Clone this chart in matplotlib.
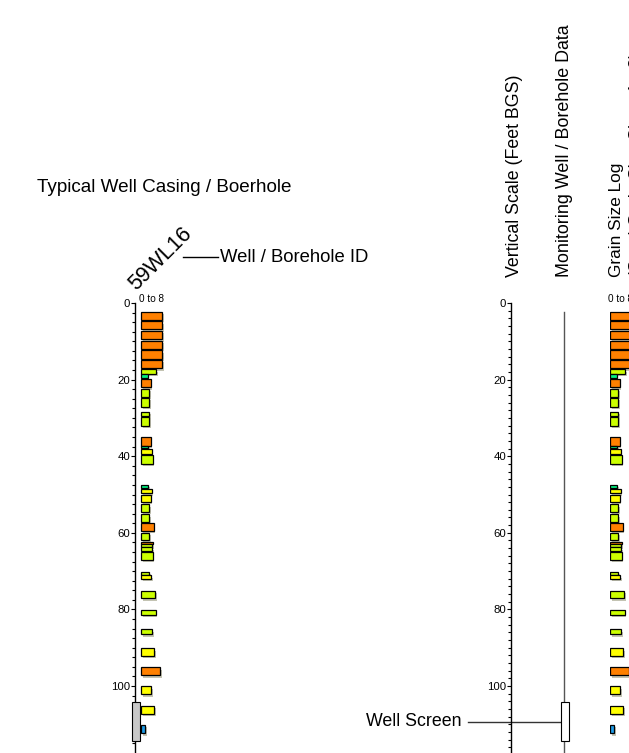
import matplotlib.pyplot as plt
from matplotlib.lines import Line2D
from matplotlib.patches import Rectangle
from matplotlib.ticker import MultipleLocator

plt.rcParams['font.family'] = ['Liberation Sans', 'DejaVu Sans']

W, H = 629, 753          # canvas size in pixels
PX_FT = 3.83             # vertical pixels per foot of depth
PX_UNIT = 2.7            # horizontal pixels per grain size unit

# borehole 59WL16 grain size log (feet below ground surface)
tops = [2.4, 4.8, 7.3, 9.8, 12.4, 14.9, 17.3, 18.5, 19.8, 22.5, 24.8, 28.5, 29.8,
        35.0, 37.3, 38.0, 39.8, 47.5, 48.6, 50.0, 52.6, 55.2, 57.5, 60.1, 62.3,
        62.9, 63.8, 65.1, 70.2, 71.1, 75.1, 80.2, 85.2, 90.2, 95.1, 100.1, 105.2, 110.2]
bottoms = [4.4, 6.9, 9.5, 12.0, 14.5, 17.1, 18.5, 19.6, 22.0, 24.5, 27.1, 29.6, 32.1,
           37.3, 37.8, 39.5, 42.0, 48.4, 49.7, 52.0, 54.6, 57.1, 59.5, 61.9, 62.9,
           63.6, 64.7, 67.1, 71.1, 72.1, 77.1, 81.5, 86.5, 92.2, 97.2, 102.2, 107.2, 112.4]
grain = [7.9, 7.9, 7.9, 7.9, 7.9, 7.9, 5.6, 2.5, 3.6, 3.0, 3.0, 3.0, 3.0,
         3.6, 2.6, 4.0, 4.3, 2.6, 4.0, 3.7, 3.0, 3.0, 4.8, 3.0, 4.3,
         4.1, 4.1, 4.3, 3.0, 3.8, 5.3, 5.4, 4.2, 4.9, 7.1, 3.8, 4.9, 1.5]
classes = ['G', 'G', 'G', 'G', 'G', 'G', 'C', 'F', 'G', 'C', 'C', 'C', 'C',
           'G', 'F', 'M', 'C', 'F', 'M', 'M', 'C', 'C', 'G', 'C', 'G',
           'C', 'C', 'C', 'C', 'M', 'C', 'C', 'C', 'M', 'G', 'M', 'M', 'S']
class_colors = {'G': '#ff8000', 'C': '#ccff00', 'M': '#ffff00', 'F': '#00f080', 'S': '#1e9be6'}

screen_top, screen_bottom = 104.3, 114.3
well_top = 2.3
depth_ticks = [0, 20, 40, 60, 80, 100]
max_depth = (H - 303) / PX_FT


def frame(x0, y0, x1, y1):
    return [x0 / W, 1 - y1 / H, (x1 - x0) / W, (y1 - y0) / H]


def draw_log(ax):
    heights = [b - t for t, b in zip(tops, bottoms)]
    colors = [class_colors[c] for c in classes]
    # soft drop shadow under each interval
    ax.barh([t + 0.6 for t in tops], grain, height=heights, left=1.5 / PX_UNIT,
            align='edge', color='#3a3a00', alpha=0.3, lw=0, zorder=1)
    ax.barh(tops, grain, height=heights, left=0, align='edge', color=colors,
            edgecolor='black', lw=0.9, zorder=2)
    ax.text(-2 / PX_UNIT, -1.0, '0 to 8', fontsize=7.2, va='center', ha='left', clip_on=False)


def depth_axis(ax, spine_x, minor):
    for s in ['top', 'right', 'bottom']:
        ax.spines[s].set_visible(False)
    ax.spines['left'].set_position(('data', spine_x))
    ax.spines['left'].set_linewidth(1.0)
    ax.set_yticks(depth_ticks)
    ax.yaxis.set_minor_locator(MultipleLocator(minor))
    ax.tick_params(axis='y', which='major', length=3, width=0.8, labelsize=8.2, pad=0.5)
    ax.tick_params(axis='y', which='minor', length=2, width=0.8)
    ax.set_xticks([])
    ax.set_ylim(max_depth, 0)
    ax.patch.set_alpha(0)


fig = plt.figure(figsize=(W / 100, H / 100), dpi=100)

# typical borehole panel
ax1 = fig.add_axes(frame(125, 303, 175, H))
ax1.set_xlim((125 - 141) / PX_UNIT, (175 - 141) / PX_UNIT)
depth_axis(ax1, (135 - 141) / PX_UNIT, 2.5)
draw_log(ax1)
ax1.add_patch(Rectangle(((132.3 - 141) / PX_UNIT, screen_top), 7.7 / PX_UNIT,
                        screen_bottom - screen_top, facecolor='#c8c8c8',
                        edgecolor='black', lw=0.8, zorder=3, clip_on=False))

# vertical scale with monitoring well
ax2 = fig.add_axes(frame(511, 303, 600, H))
ax2.set_xlim(0, 89)
depth_axis(ax2, 0, 2)
ax2.plot([53, 53], [well_top, max_depth], color='#555555', lw=1.0, zorder=1)
ax2.add_patch(Rectangle((49.8, screen_top), 7.7, screen_bottom - screen_top,
                        facecolor='white', edgecolor='black', lw=0.8, zorder=3))
mid_screen = (screen_top + screen_bottom) / 2
ax2.plot([-43, 49.8], [mid_screen, mid_screen], color='#333333', lw=1.0, clip_on=False)
ax2.text(-49.5, mid_screen, 'Well Screen', fontsize=12.8, ha='right', va='center')

# grain size log column
ax3 = fig.add_axes(frame(610, 303, 700, H))
ax3.set_xlim(0, 90 / PX_UNIT)
ax3.set_ylim(max_depth, 0)
ax3.axis('off')
draw_log(ax3)

# headings and callouts
fig.text(37 / W, 1 - 191.7 / H, 'Typical Well Casing / Boerhole', fontsize=13.6,
         ha='left', va='baseline')
fig.text(136 / W, 1 - 291 / H, '59WL16', fontsize=15.5, rotation=45,
         rotation_mode='anchor', ha='left', va='baseline')
fig.add_artist(Line2D([183 / W, 218 / W], [1 - 257.3 / H] * 2, color='black', lw=1.0))
fig.text(220 / W, 1 - 261.7 / H, 'Well / Borehole ID', fontsize=13.3, ha='left', va='baseline')

for x, label, size in [(519, 'Vertical Scale (Feet BGS)', 12.8),
                       (569, 'Monitoring Well / Borehole Data', 12.9),
                       (621, 'Grain Size Log', 12.4),
                       (641, '(Sand Grain Size Class 1 - 8)', 12.4)]:
    fig.text(x / W, 1 - 277 / H, label, fontsize=size, rotation=90,
             rotation_mode='anchor', ha='left', va='baseline')

fig.savefig('out.png', dpi=100)
